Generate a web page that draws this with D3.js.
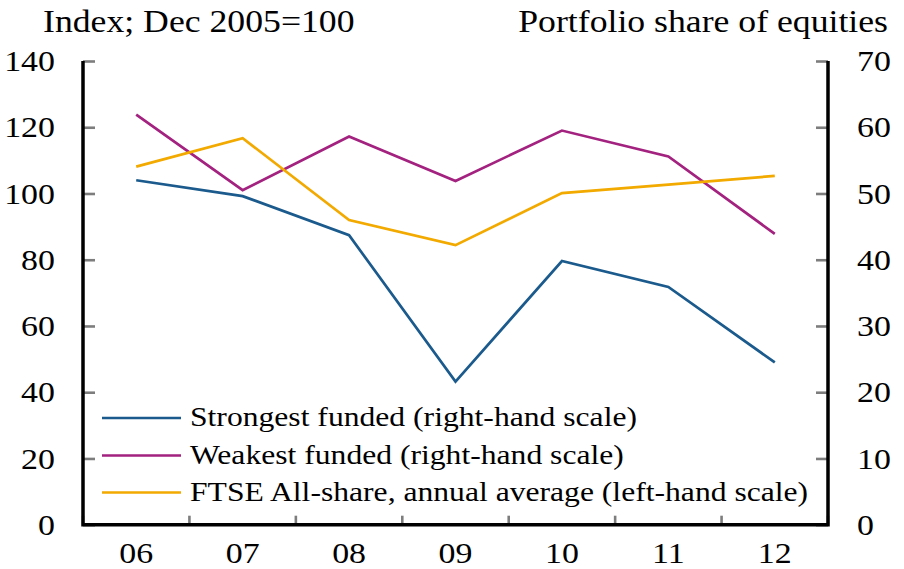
<!DOCTYPE html>
<html>
<head>
<meta charset="utf-8">
<script src="https://cdn.jsdelivr.net/npm/d3@7"></script>
<style>
  html, body { margin: 0; padding: 0; background: #fff; }
  svg text { font-family: "Times New Roman", Times, "Liberation Serif", "DejaVu Serif", serif; }
</style>
</head>
<body>
<div id="chart"></div>
<script>
// Pension funds: equity share by funding strength vs FTSE All-share

// Data
const years = ["06", "07", "08", "09", "10", "11", "12"];
const strongest = [52.0, 49.6, 43.7, 21.6, 39.8, 35.9, 24.5]; // right-hand scale
const weakest = [61.9, 50.5, 58.6, 51.9, 59.5, 55.6, 43.9];   // right-hand scale
const ftse = [108.1, 116.7, 92.0, 84.4, 100.1, 102.7, 105.3]; // left-hand scale
const leftTicks = [0, 20, 40, 60, 80, 100, 120, 140];
const rightTicks = [0, 10, 20, 30, 40, 50, 60, 70];

// Colors
const colorStrong = "#1b5a8c";
const colorWeak = "#a3217f";
const colorFtse = "#f2a900";
const colorTick = "#7d7d7d";

const stretch = 1.13; // the reference type is a bit wider than Times

// Dimensions
const width = 904, height = 569,
      marginTop = 61, marginRight = 76, marginBottom = 44.3, marginLeft = 83;

const x = d3.scaleBand()
    .domain(years)
    .range([marginLeft, width - marginRight]);

const yL = d3.scaleLinear()
    .domain([0, 140])
    .range([height - marginBottom, marginTop]);

const yR = d3.scaleLinear()
    .domain([0, 70])
    .range([height - marginBottom, marginTop]);

const svg = d3.select("#chart")
  .append("svg")
    .attr("width", width)
    .attr("height", height)
    .attr("viewBox", [0, 0, width, height]);

// helper for stretched text
function label(txt, px, py, size, anchor) {
  return svg.append("text")
    .attr("transform", `translate(${px},${py}) scale(${stretch},1)`)
    .attr("font-size", size)
    .attr("text-anchor", anchor || "start")
    .attr("fill", "#000")
    .text(txt);
}

// Titles
label("Index; Dec 2005=100", 43, 32, 31.6);
label("Portfolio share of equities", 888, 32, 31.6, "end");

// Left axis
svg.append("g")
    .attr("transform", `translate(${marginLeft},0)`)
    .call(d3.axisLeft(yL).tickValues(leftTicks).tickSize(-12).tickPadding(28 / stretch))
    .call(g => g.select(".domain").remove())
    .call(g => g.selectAll(".tick line").attr("stroke", colorTick).attr("stroke-width", 2.6))
    .call(g => g.selectAll(".tick text")
        .attr("font-size", 30)
        .attr("fill", "#000")
        .attr("transform", `scale(${stretch},1)`));

// Right axis
svg.append("g")
    .attr("transform", `translate(${width - marginRight},0)`)
    .call(d3.axisRight(yR).tickValues(rightTicks).tickSize(-12).tickPadding(29 / stretch))
    .call(g => g.select(".domain").remove())
    .call(g => g.selectAll(".tick line").attr("stroke", colorTick).attr("stroke-width", 2.6))
    .call(g => g.selectAll(".tick text")
        .attr("font-size", 30)
        .attr("fill", "#000")
        .attr("transform", `scale(${stretch},1)`));

// Bottom axis labels
svg.append("g")
    .attr("transform", `translate(0,${height - marginBottom})`)
    .call(d3.axisBottom(x).tickSize(0).tickPadding(17))
    .call(g => g.select(".domain").remove())
    .call(g => g.selectAll(".tick text")
        .attr("font-size", 30)
        .attr("fill", "#000")
        .attr("transform", `scale(${stretch},1)`));

// Bottom ticks at category boundaries
const bounds = years.map(d => x(d)).concat([x(years[years.length - 1]) + x.step()]);
svg.append("g")
  .selectAll("line")
  .data(bounds)
  .join("line")
    .attr("x1", d => d)
    .attr("x2", d => d)
    .attr("y1", height - marginBottom)
    .attr("y2", height - marginBottom - 9)
    .attr("stroke", colorTick)
    .attr("stroke-width", 2.6);

// Frame: left, right, bottom
svg.append("path")
    .attr("d", `M${marginLeft},${yL(140)}V${yL(0)}H${width - marginRight}V${yR(70)}`)
    .attr("fill", "none")
    .attr("stroke", "#000")
    .attr("stroke-width", 3.5);

// Lines
const lineR = d3.line()
    .x((d, i) => x(years[i]) + x.bandwidth() / 2)
    .y(d => yR(d));
const lineL = d3.line()
    .x((d, i) => x(years[i]) + x.bandwidth() / 2)
    .y(d => yL(d));

const series = [
  {values: weakest, line: lineR, color: colorWeak},
  {values: ftse, line: lineL, color: colorFtse},
  {values: strongest, line: lineR, color: colorStrong}
];

svg.append("g")
    .attr("fill", "none")
    .attr("stroke-width", 2.7)
    .attr("stroke-linejoin", "miter")
  .selectAll("path")
  .data(series)
  .join("path")
    .attr("stroke", d => d.color)
    .attr("d", d => d.line(d.values));

// Legend
const legendItems = [
  {name: "Strongest funded (right-hand scale)", color: colorStrong, y: 418},
  {name: "Weakest funded (right-hand scale)", color: colorWeak, y: 455.5},
  {name: "FTSE All-share, annual average (left-hand scale)", color: colorFtse, y: 492.5}
];

legendItems.forEach(d => {
  svg.append("line")
      .attr("x1", 102)
      .attr("x2", 181)
      .attr("y1", d.y)
      .attr("y2", d.y)
      .attr("stroke", d.color)
      .attr("stroke-width", 2.7);
  label(d.name, 190, d.y + 8, 28);
});
</script>
</body>
</html>
